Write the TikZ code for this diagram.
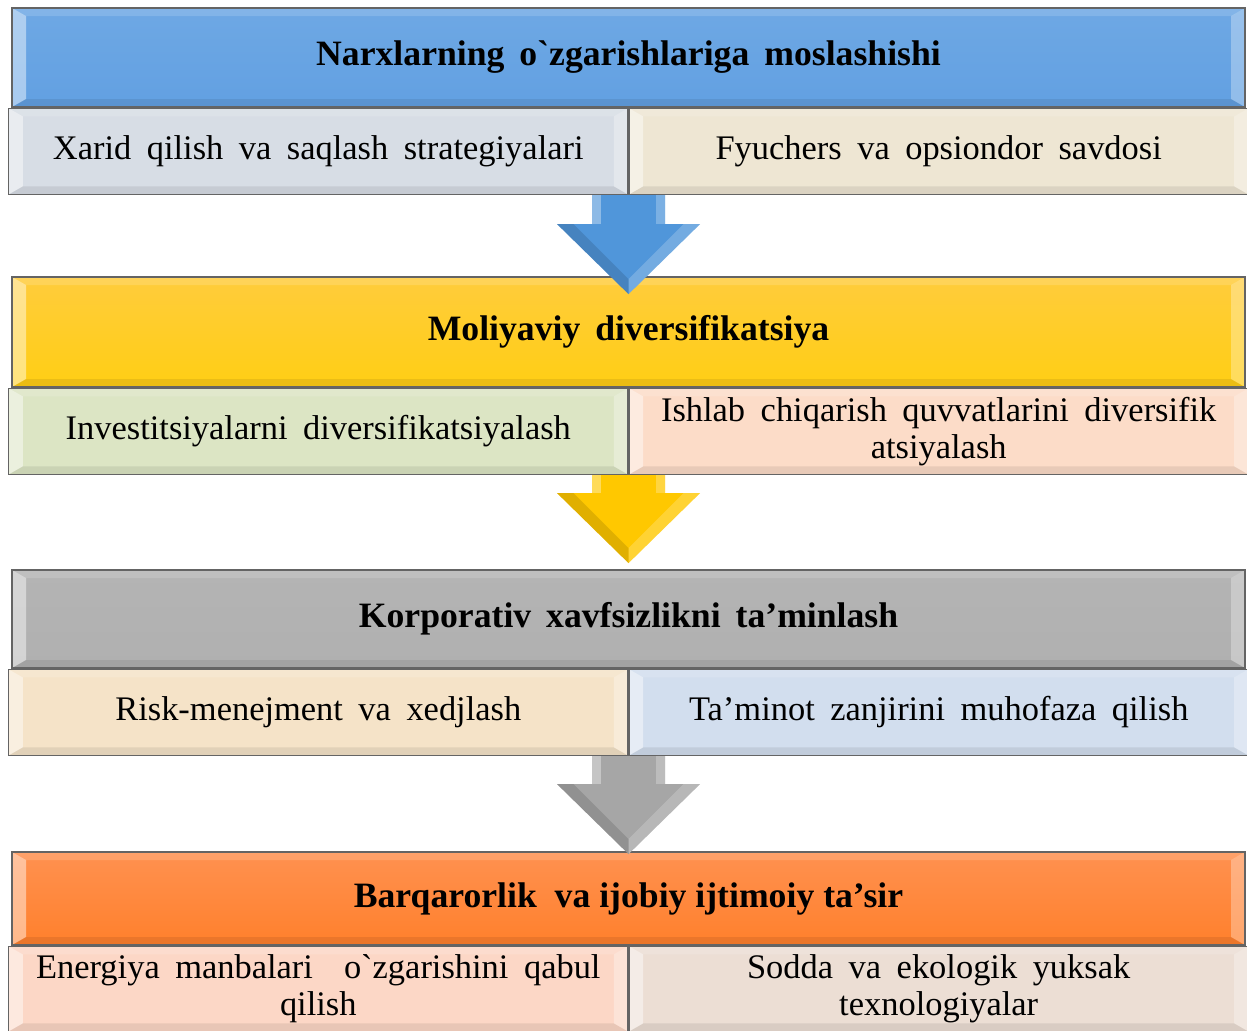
\documentclass[tikz,border=0pt]{standalone}
\usepackage{fontspec}
\setmainfont{Liberation Serif}
\usepackage{tikz}

\definecolor{bluehead}{RGB}{110,168,228}
\definecolor{bluehead2}{RGB}{98,160,226}
\definecolor{yellowhead}{RGB}{255,204,60}
\definecolor{yellowhead2}{RGB}{255,206,20}
\definecolor{grayhead}{RGB}{180,180,180}
\definecolor{grayhead2}{RGB}{176,176,176}
\definecolor{orangehead}{RGB}{255,145,80}
\definecolor{orangehead2}{RGB}{255,128,44}
\definecolor{subA}{RGB}{215,221,229}
\definecolor{subB}{RGB}{238,230,211}
\definecolor{subC}{RGB}{220,229,196}
\definecolor{subD}{RGB}{252,220,200}
\definecolor{subE}{RGB}{245,227,200}
\definecolor{subF}{RGB}{210,222,238}
\definecolor{subG}{RGB}{252,215,198}
\definecolor{subH}{RGB}{236,222,212}
\definecolor{arrowblue}{RGB}{80,150,218}
\definecolor{arrowyellow}{RGB}{255,200,0}
\definecolor{arrowgray}{RGB}{166,166,166}
\definecolor{edge}{RGB}{100,100,100}

\newcommand{\headfont}{\fontsize{20.3}{23}\selectfont\bfseries\spaceskip=.42em\relax}
\newcommand{\subfont}{\fontsize{19.6}{21.2}\selectfont}

\begin{document}
\begin{tikzpicture}[
		bevel/.style={path picture={
			\fill[white,opacity=.45] (path picture bounding box.north west) -- (path picture bounding box.south west)
				-- ([shift={(0.28,0.16)}]path picture bounding box.south west) -- ([shift={(0.28,-0.16)}]path picture bounding box.north west) -- cycle;
			\fill[white,opacity=.3] (path picture bounding box.north east) -- (path picture bounding box.south east)
				-- ([shift={(-0.28,0.16)}]path picture bounding box.south east) -- ([shift={(-0.28,-0.16)}]path picture bounding box.north east) -- cycle;
			\fill[white,opacity=.15] (path picture bounding box.north west) -- (path picture bounding box.north east)
				-- ([shift={(-0.28,-0.16)}]path picture bounding box.north east) -- ([shift={(0.28,-0.16)}]path picture bounding box.north west) -- cycle;
			\fill[black,opacity=.08] (path picture bounding box.south west) -- (path picture bounding box.south east)
				-- ([shift={(-0.28,0.16)}]path picture bounding box.south east) -- ([shift={(0.28,0.16)}]path picture bounding box.south west) -- cycle;
		}},
		head/.style={draw=edge, line width=0.8pt, bevel, minimum width=24.66cm, inner sep=0pt, font=\headfont},
		sub/.style={draw=edge, line width=0.8pt, bevel, minimum width=12.38cm, minimum height=1.72cm,
			text width=11.9cm, align=center, inner sep=0pt, font=\subfont,
			execute at begin node={\spaceskip=.45em\relax}}]

	% bounding box with the reference margins
	\useasboundingbox (0,0) rectangle (24.94,-20.6);

	% headers
	\node[head, minimum height=1.98cm, top color=bluehead, bottom color=bluehead2] (h1) at (12.57,-1.15) {Narxlarning o\textasciigrave zgarishlariga moslashishi};
	\node[head, minimum height=2.2cm, top color=yellowhead, bottom color=yellowhead2] (h2) at (12.57,-6.64) {Moliyaviy diversifikatsiya};
	\node[head, minimum height=1.96cm, top color=grayhead, bottom color=grayhead2] (h3) at (12.57,-12.38) {Korporativ xavfsizlikni ta’minlash};
	\node[head, minimum height=1.86cm, top color=orangehead, bottom color=orangehead2,
		execute at begin node={\spaceskip=0pt\relax}] (h4) at (12.57,-17.97) {Barqarorlik\ \ va ijobiy ijtimoiy ta’sir};

	% sub boxes
	\node[sub, fill=subA, anchor=north east] (l1) at (h1.south) {Xarid qilish va saqlash strategiyalari};
	\node[sub, fill=subB, anchor=north west] (r1) at (h1.south) {Fyuchers va opsiondor savdosi};
	\node[sub, fill=subC, anchor=north east] (l2) at (h2.south) {Investitsiyalarni diversifikatsiyalash};
	\node[sub, fill=subD, anchor=north west] (r2) at (h2.south) {Ishlab chiqarish quvvatlarini diversifik\\atsiyalash};
	\node[sub, fill=subE, anchor=north east] (l3) at (h3.south) {Risk-menejment va xedjlash};
	\node[sub, fill=subF, anchor=north west] (r3) at (h3.south) {Ta’minot zanjirini muhofaza qilish};
	\node[sub, fill=subG, anchor=north east, minimum height=1.7cm] (l4) at (h4.south) {Energiya manbalari\ \ o\textasciigrave zgarishini qabul\\qilish};
	\node[sub, fill=subH, anchor=north west, minimum height=1.7cm] (r4) at (h4.south) {Sodda va ekologik yuksak\\texnologiyalar};

	% block arrows between the sections
	\foreach \s/\c/\len in {l1/arrowblue/0.58, l2/arrowyellow/0.36, l3/arrowgray/0.56} {
		\begin{scope}[shift={(\s.south east)}]
			\fill[\c] (-0.73,0) -- (0.73,0) -- (0.73,-\len) -- (1.43,-\len) -- (0,{-\len-1.4}) -- (-1.43,-\len) -- (-0.73,-\len) -- cycle;
			\fill[white,opacity=.35] (-0.73,0) rectangle (-0.55,-\len);
			\fill[white,opacity=.25] (0.55,0) rectangle (0.73,-\len);
			\fill[black,opacity=.12] (-1.43,-\len) -- (0,{-\len-1.4}) -- (0,{-\len-1.1}) -- (-1.1,-\len) -- cycle;
			\fill[white,opacity=.2] (1.43,-\len) -- (0,{-\len-1.4}) -- (0,{-\len-1.1}) -- (1.1,-\len) -- cycle;
		\end{scope}
	}

\end{tikzpicture}
\end{document}
